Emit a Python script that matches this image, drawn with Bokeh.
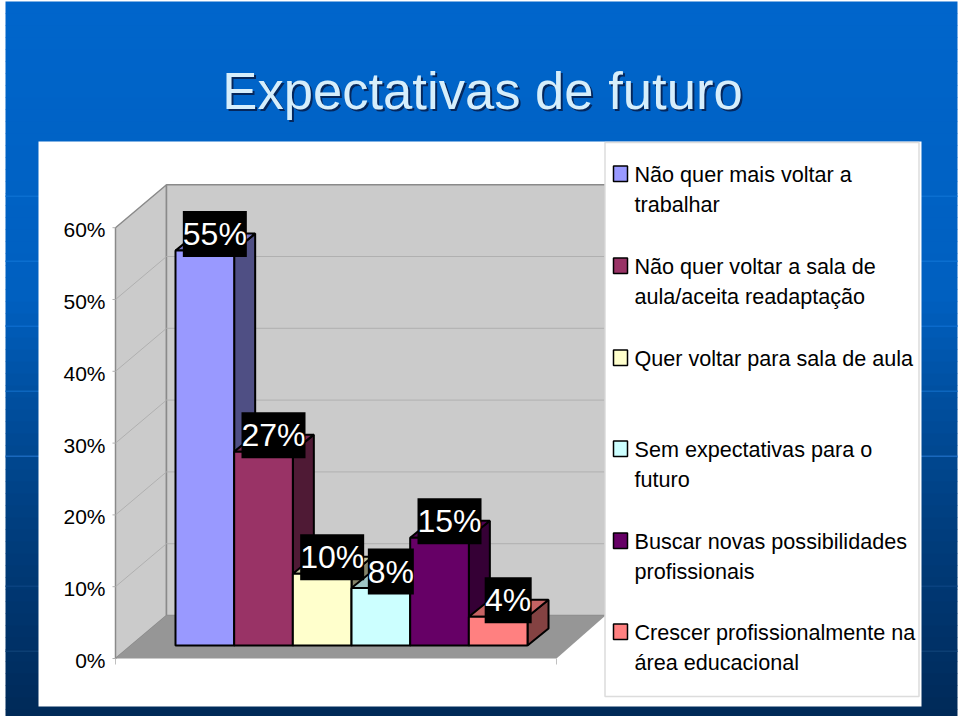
from bokeh.plotting import figure
from bokeh.models import Range1d
from bokeh.core.properties import value
from bokeh.embed import file_html
from bokeh.resources import INLINE

# ---- data ----
title = "Expectativas de futuro"
categories = ["Não quer mais voltar a\ntrabalhar",
              "Não quer voltar a sala de\naula/aceita readaptação",
              "Quer voltar para sala de aula",
              "Sem expectativas para o\nfuturo",
              "Buscar novas possibilidades\nprofissionais",
              "Crescer profissionalmente na\nárea educacional"]
values = [55, 27, 10, 8, 15, 4]
labels = ["55%", "27%", "10%", "8%", "15%", "4%"]
colors = ["#9999ff", "#993366", "#ffffcc", "#ccffff", "#660066", "#ff8080"]
ticks = [0, 10, 20, 30, 40, 50, 60]
tick_labels = ["0%", "10%", "20%", "30%", "40%", "50%", "60%"]

# ---- layout ----
W, H = 960, 716
FONT = value("Liberation Sans")
PX = 7.18            # pixels per percentage point
BAR_W = 58.67
Y0, X0 = 658, 175


def shade(hex_color, k):
    r, g, b = (int(hex_color[i:i + 2], 16) for i in (1, 3, 5))
    return "#%02x%02x%02x" % (int(r * k), int(g * k), int(b * k))


def mix(a, b, t):
    ra = [int(a[i:i + 2], 16) for i in (1, 3, 5)]
    rb = [int(b[i:i + 2], 16) for i in (1, 3, 5)]
    return "#%02x%02x%02x" % tuple(int(p + (q - p) * t) for p, q in zip(ra, rb))


p = figure(width=W, height=H, output_backend="svg", toolbar_location=None,
           x_range=Range1d(0, W), y_range=Range1d(H, 0),
           x_axis_location=None, y_axis_location=None,
           min_border_left=0, min_border_right=0, min_border_top=0, min_border_bottom=0,
           outline_line_color=None, background_fill_color="white", border_fill_color="white")
p.grid.visible = False
p.extra_x_ranges["cat"] = Range1d((0 - X0) / BAR_W, (W - X0) / BAR_W)
p.extra_y_ranges["pct"] = Range1d((Y0 - H) / PX, Y0 / PX)

# ---- slide background ----
stops = [(0, "#0066cc"), (300, "#0060c0"), (400, "#004f9f"), (520, "#003f80"),
         (620, "#00346c"), (716, "#002a58")]


def band_color(y):
    for (y1, c1), (y2, c2) in zip(stops, stops[1:]):
        if y <= y2:
            return mix(c1, c2, (y - y1) / (y2 - y1))
    return stops[-1][1]


band_tops = list(range(1, 716, 12))
p.quad(left=5, right=957, top=band_tops, bottom=[y + 12.5 for y in band_tops],
       fill_color=[band_color(y + 6) for y in band_tops], line_color=None)
seams = [195, 260, 325, 390, 455, 585, 650]
seam_colors = ["#0b6fd0", "#0b6fd0", "#0b6acb", "#0d66be", "#1a68bd", "#0a4280", "#0c3f74"]
p.quad(left=5, right=957, top=seams, bottom=[y + 1.5 for y in seams],
       fill_color=seam_colors, line_color=None)
p.quad(left=[38], right=[921], top=[141], bottom=[706], fill_color="white", line_color=None)

# ---- 3D walls and floor ----
wall_x = [115, 166, 605, 556]
floor_dy = 43 / PX
wall_top = 60
p.patch([wall_x[0], wall_x[1], wall_x[1], wall_x[0]],
        [0, floor_dy, wall_top + floor_dy, wall_top], y_range_name="pct",
        fill_color="#cbcbcb", line_color="#8a8a8a", line_width=1.5)
p.patch([wall_x[1], wall_x[2], wall_x[2], wall_x[1]],
        [floor_dy, floor_dy, wall_top + floor_dy, wall_top + floor_dy], y_range_name="pct",
        fill_color="#cbcbcb", line_color="#8a8a8a", line_width=1.5)
p.patch([wall_x[0], wall_x[1], wall_x[2], wall_x[3]],
        [0, floor_dy, floor_dy, 0], y_range_name="pct",
        fill_color="#969696", line_color=None)
grid = ticks[1:-1]
p.segment([wall_x[0]] * len(grid), grid, [wall_x[1]] * len(grid), [g + floor_dy for g in grid],
          y_range_name="pct", line_color="#b0b0b0", line_width=1)
p.segment([wall_x[1]] * len(grid), [g + floor_dy for g in grid],
          [wall_x[2]] * len(grid), [g + floor_dy for g in grid],
          y_range_name="pct", line_color="#b0b0b0", line_width=1)
# tick marks below the floor edge
p.segment([115, 556], [658, 658], [115, 556], [664, 664], line_color="#c0c0c0", line_width=1)

# ---- bars ----
base = 13 / PX
dx = 21 / BAR_W
dy = 17 / PX
for i, (v, c) in enumerate(zip(values, colors)):
    top = base + v
    p.patch([i + 1, i + 1 + dx, i + 1 + dx, i + 1], [base, base + dy, top + dy, top],
            x_range_name="cat", y_range_name="pct",
            fill_color=shade(c, 0.52), line_color="black", line_width=2)
    p.patch([i, i + dx, i + 1 + dx, i + 1], [top, top + dy, top + dy, top],
            x_range_name="cat", y_range_name="pct",
            fill_color=shade(c, 0.78), line_color="black", line_width=2)
    p.quad(left=[i], right=[i + 1], bottom=[base], top=[top],
           x_range_name="cat", y_range_name="pct",
           fill_color=c, line_color="black", line_width=2)

# ---- value labels ----
lab_x = [i + 0.5 + 10 / BAR_W for i in range(len(values))]
lab_y = [base + v + 16.5 / PX for v in values]
lab_w = [64, 64, 64, 46, 64, 47]
p.rect(lab_x, lab_y, width=lab_w, height=[46] * len(values), width_units="screen", height_units="screen",
       x_range_name="cat", y_range_name="pct", fill_color="black", line_color=None)
p.text(lab_x, lab_y, text=labels, x_range_name="cat", y_range_name="pct",
       text_color="white", text_font=FONT, text_font_size="32px",
       text_align="center", text_baseline="middle")

# ---- value axis ----
p.text([105] * len(ticks), [t - 2 / PX for t in ticks], text=tick_labels, y_range_name="pct",
       text_color="black", text_font=FONT, text_font_size="21px",
       text_align="right", text_baseline="middle")
p.segment([112] * len(ticks), ticks, [115] * len(ticks), ticks, y_range_name="pct",
          line_color="#b0b0b0", line_width=1)

# ---- legend ----
p.quad(left=[604.5], right=[918.5], top=[142], bottom=[696], fill_color="white", line_color="#dcdcdc", line_width=1.5)
leg_first_line = [174, 266, 358, 449, 541, 632]
LINE = 29.5
p.quad(left=[613] * 6, right=[627] * 6, top=[y - 8.5 for y in leg_first_line],
       bottom=[y + 7 for y in leg_first_line], fill_color=colors, line_color="black", line_width=1.5)
for name, y in zip(categories, leg_first_line):
    lines = name.split("\n")
    p.text([634] * len(lines), [y + k * LINE for k in range(len(lines))], text=lines,
           text_color="black", text_font=FONT, text_font_size="21.6px",
           text_align="left", text_baseline="middle")

# ---- title ----
p.text([484], [92], text=[title], text_color="#05275c", text_font=FONT, text_font_size="52.6px",
       text_align="center", text_baseline="middle")
p.text([482], [90], text=[title], text_color="#d6eefb", text_font=FONT, text_font_size="52.6px",
       text_align="center", text_baseline="middle")

open("out.html", "w").write(file_html(p, INLINE))
